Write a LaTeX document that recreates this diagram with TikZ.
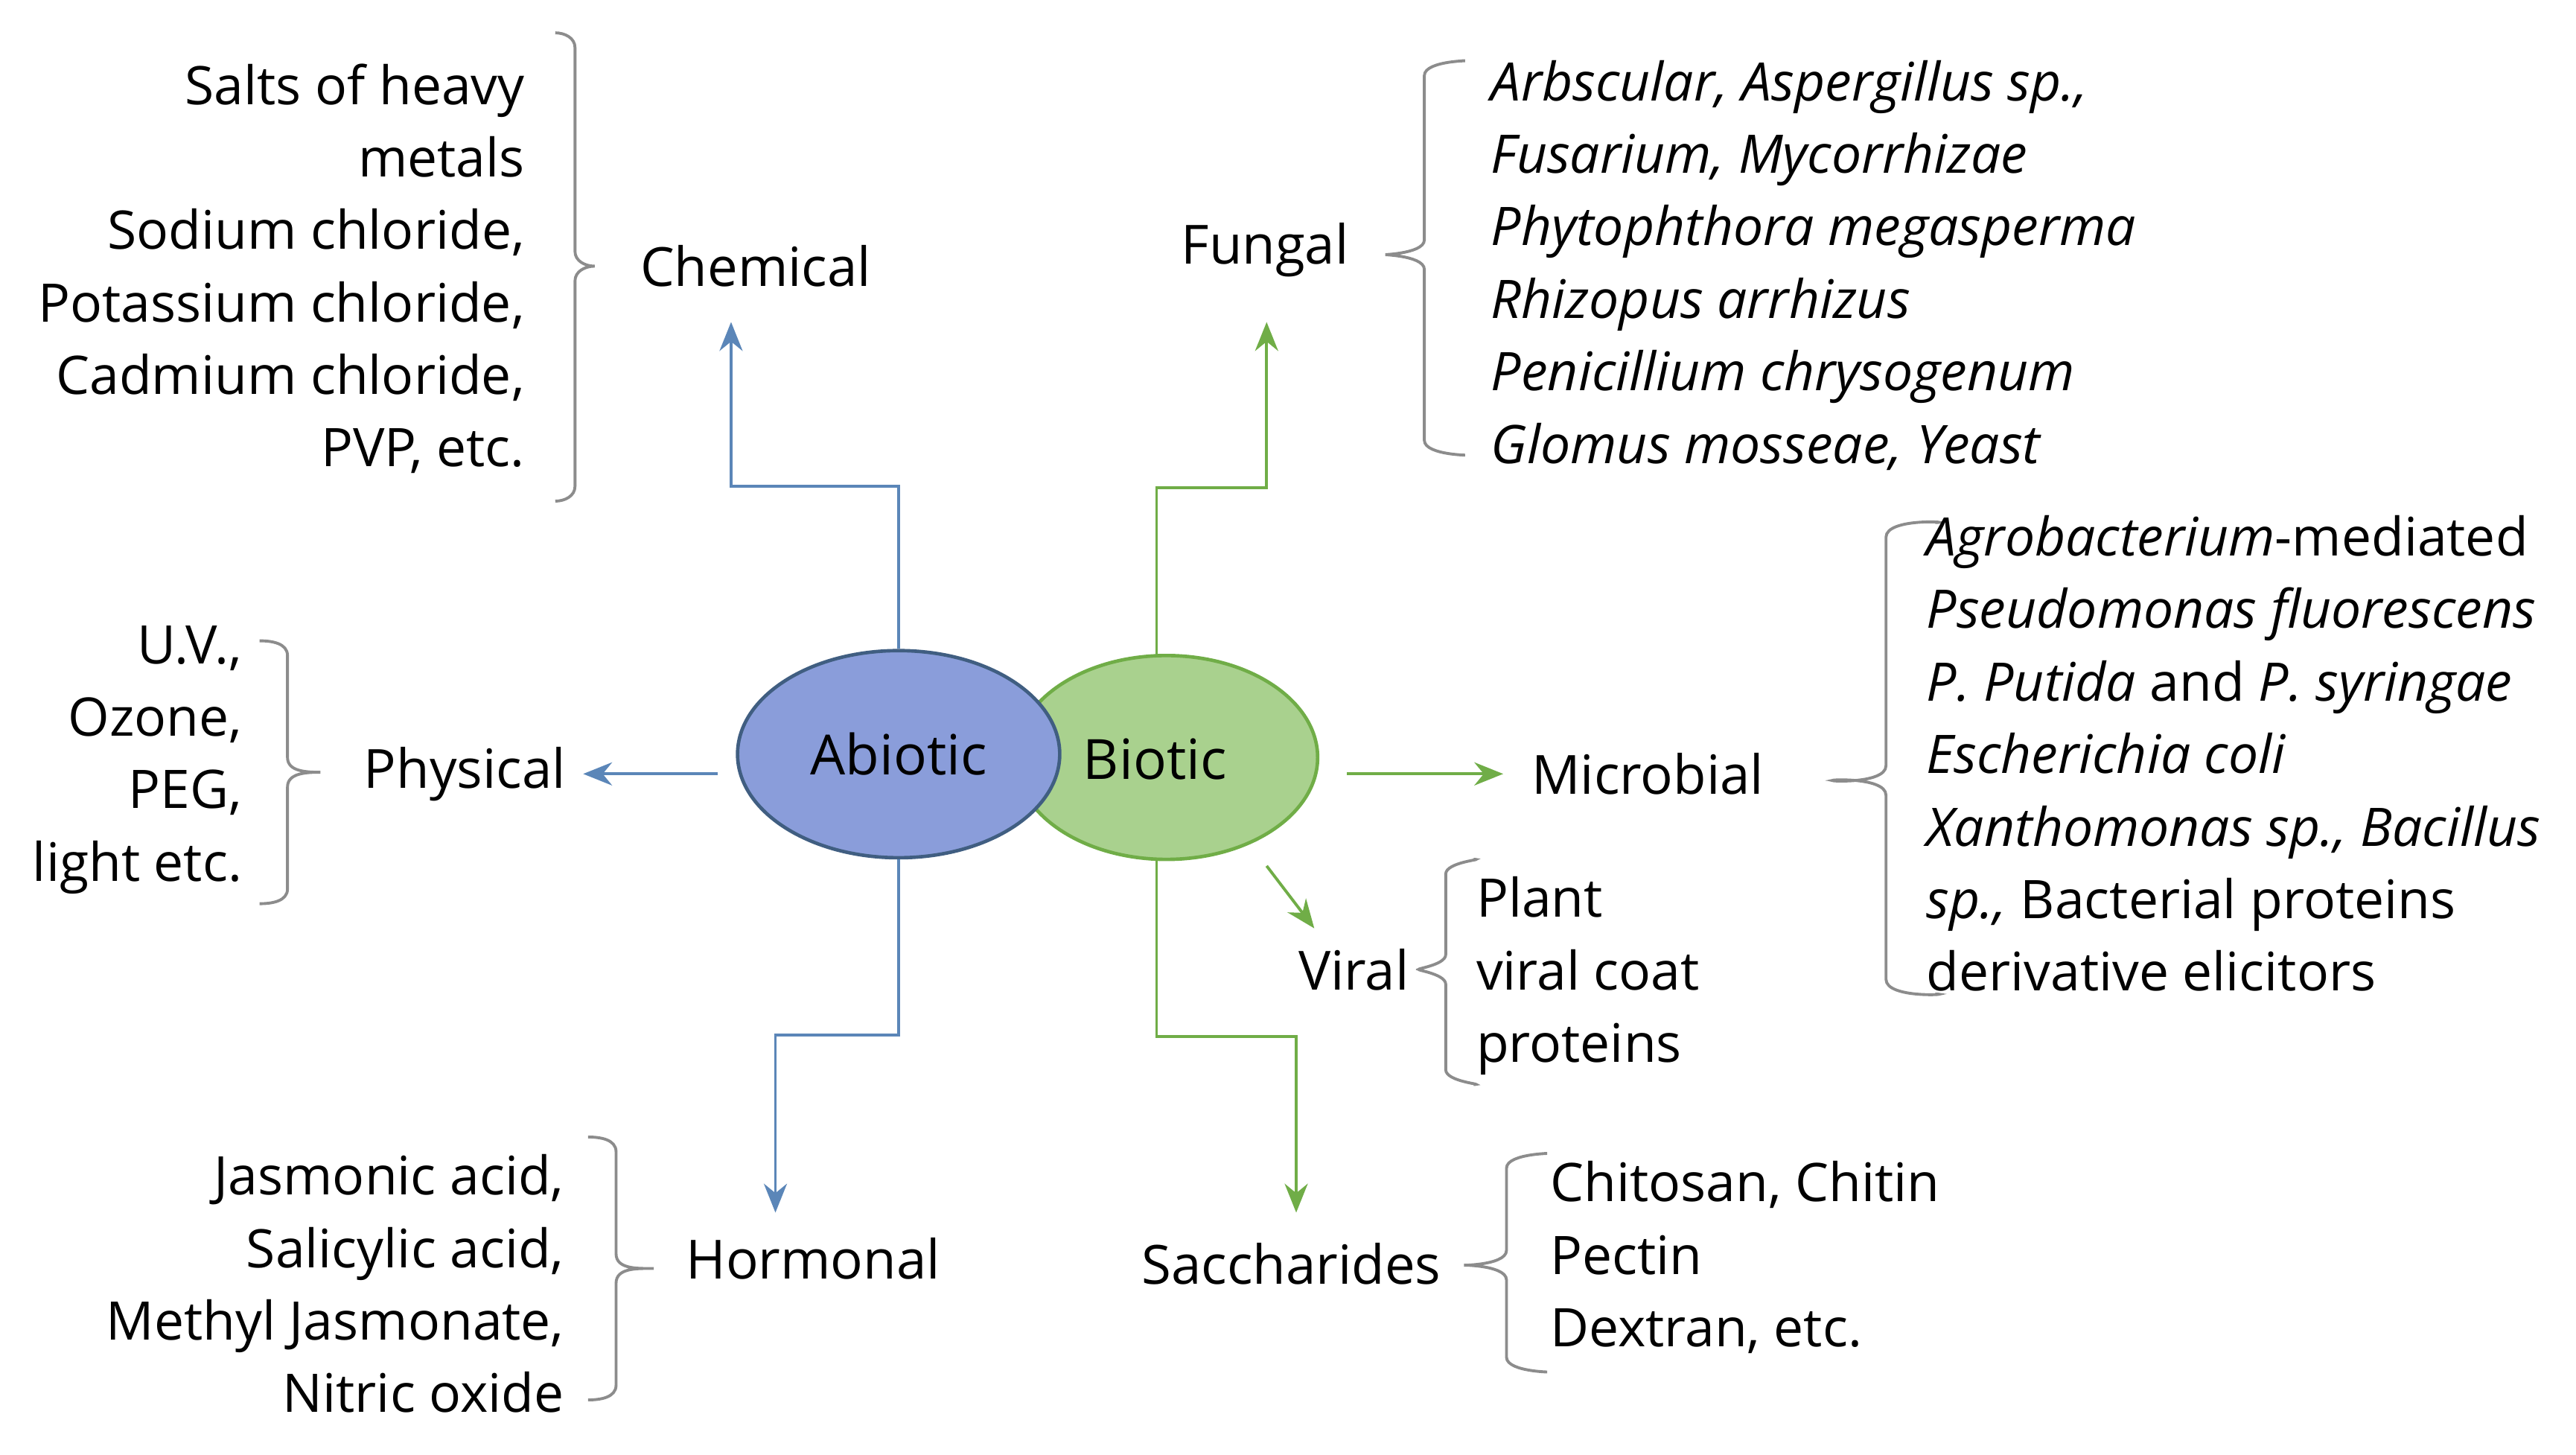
\documentclass[tikz,border=0pt]{standalone}
\usepackage{fontspec}
\setmainfont{Open Sans}
\usetikzlibrary{shapes.geometric,arrows.meta}
\definecolor{bluel}{HTML}{5B86B8}
\definecolor{greenl}{HTML}{70AD47}
\definecolor{bracec}{HTML}{8C8C8C}
\definecolor{bfill}{HTML}{8A9DDA}
\definecolor{gfill}{HTML}{A9D18E}
\tikzset{
 x=0.01cm,y=-0.01cm,
 txt/.style={inner sep=0pt,font=\fontsize{9.2}{12.55}\selectfont},
 lbl/.style={inner sep=0pt,font=\fontsize{9.35}{12}\selectfont},
 barr/.style={draw=bluel,line width=0.5pt,-{Stealth[length=5pt,width=4pt]}},
 garr/.style={draw=greenl,line width=0.5pt,-{Stealth[length=5pt,width=4pt]}},
 brc/.style={draw=bracec,line width=0.5pt}
}
\newcommand{\mybrace}[6]{\draw[brc] (#1,#4) to[out=0,in=90] (#2,#4+9) -- (#2,#5-9) to[out=-90,in=180] (#3,#5) to[out=180,in=90] (#2,#5+9) -- (#2,#6-9) to[out=-90,in=0] (#1,#6);}
\begin{document}
\begin{tikzpicture}
\useasboundingbox (0,0) rectangle (1568,885.5);
\node[ellipse,draw=greenl,fill=gfill,line width=0.6pt,minimum width=1.84cm,minimum height=1.24cm,inner sep=0] (bio) at (710,461) {};
\node[ellipse,draw=bluel!70!black,fill=bfill,line width=0.6pt,minimum width=1.96cm,minimum height=1.26cm,inner sep=0] (abio) at (547,459) {};
\node[lbl,font=\fontsize{9.6}{12}\selectfont] at (547,459) {Abiotic};
\node[lbl,font=\fontsize{9.6}{12}\selectfont] at (703,462) {Biotic};
\node[lbl] (chem) at (460,162) {Chemical};
\node[lbl] (phys) at (283,471) {Physical};
\node[lbl] (horm) at (495,766) {Hormonal};
\node[lbl] (fung) at (770,152) {Fungal};
\node[lbl] (micr) at (1003,471) {Microbial};
\node[lbl] (vir) at (824,590) {Viral};
\node[lbl] (sacc) at (786,769) {Saccharides};
\coordinate (cu) at (445,196);
\draw[barr] (abio.north) -- (547,296) -- (445,296) -- (cu);
\coordinate (pe) at (355,471);
\draw[barr] (437,471) -- (pe);
\coordinate (he) at (472,738);
\draw[barr] (abio.south) -- (547,630) -- (472,630) -- (he);
\coordinate (fe) at (771,196);
\draw[garr] (704,399) -- (704,297) -- (771,297) -- (fe);
\draw[garr] (820,471) -- (915,471);
\draw[garr] (771,527) -- (800,565);
\coordinate (se) at (789,738);
\draw[garr] (704,523) -- (704,631) -- (789,631) -- (se);
\mybrace{338}{350}{362}{20}{162}{305}
\mybrace{158}{175}{195}{390}{470}{550}
\mybrace{358}{375}{398}{692}{772}{852}
\mybrace{890}{867}{845}{37}{155}{277}
\mybrace{1178}{1148}{1118}{318}{475}{605}
\mybrace{897}{880}{865}{523}{590}{660}
\mybrace{940}{917}{893}{702}{770}{835}
\node[txt,align=right,anchor=north east] (t1) at (320,38) {Salts of heavy\\metals\\Sodium chloride,\\Potassium chloride,\\Cadmium chloride,\\PVP, etc.};
\node[txt,align=right,anchor=north east] (t2) at (148,380) {U.V.,\\Ozone,\\PEG,\\light etc.};
\node[txt,align=right,anchor=north east] (t3) at (344,702) {Jasmonic acid,\\Salicylic acid,\\Methyl Jasmonate,\\Nitric oxide};
\node[txt,align=left,anchor=north west] (t4) at (907,36) {\itshape Arbscular, Aspergillus sp.,\\\itshape Fusarium, Mycorrhizae\\\itshape Phytophthora megasperma\\\itshape Rhizopus arrhizus\\\itshape Penicillium chrysogenum\\\itshape Glomus mosseae, Yeast};
\node[txt,align=left,anchor=north west] (t5) at (1172,313) {\textit{Agrobacterium}-mediated\\\textit{Pseudomonas fluorescens}\\\textit{P. Putida} and \textit{P. syringae}\\\textit{Escherichia coli}\\\textit{Xanthomonas sp., Bacillus}\\\textit{sp.,} Bacterial proteins\\derivative elicitors};
\node[txt,align=left,anchor=north west] (t6) at (898,533) {Plant\\viral coat\\proteins};
\node[txt,align=left,anchor=north west] (t7) at (943,706) {Chitosan, Chitin\\Pectin\\Dextran, etc.};
\end{tikzpicture}
\end{document}
